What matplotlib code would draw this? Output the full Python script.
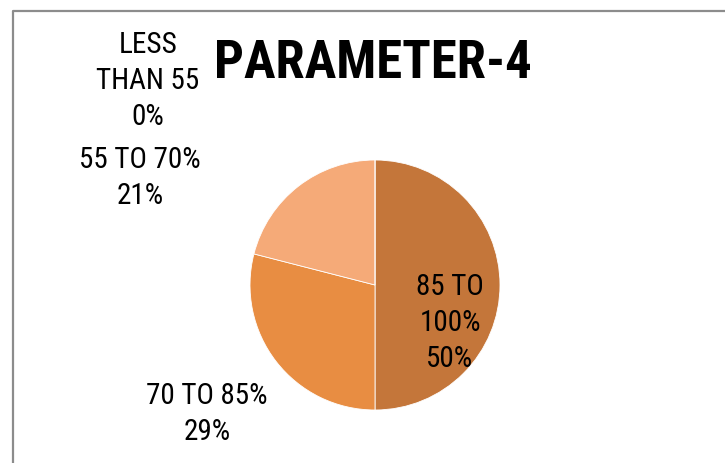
import matplotlib
matplotlib.use("Agg")
import matplotlib.pyplot as plt
from matplotlib.lines import Line2D

plt.rcParams['font.family'] = ['Roboto Condensed', 'Archivo Narrow', 'DejaVu Sans']

categories = ["85 TO 100%", "70 TO 85%", "55 TO 70%", "LESS THAN 55"]
values = [50, 29, 21, 0]
colors = ["#C4763A", "#E88D42", "#F5AA78", "#FBC9A6"]
title = "PARAMETER-4"

W, H = 725, 464
fig = plt.figure(figsize=(W / 100, H / 100), dpi=100)

# frame
fx = 12.5 / W
fy = 1 - 11.5 / H
fig.add_artist(Line2D([fx, fx, 1.0], [0.0, fy, fy], transform=fig.transFigure,
                      color="#8C8C8C", lw=1.6))

cx, cy, r = 375, 286, 125
ax = fig.add_axes([(cx - r) / W, (H - cy - r) / H, 2 * r / W, 2 * r / H])
ax.pie(values, colors=colors, startangle=90, counterclock=False, radius=1,
       wedgeprops=dict(edgecolor="white", linewidth=0.6))
ax.set_xlim(-1, 1)
ax.set_ylim(-1, 1)
ax.set_aspect('equal')
ax.axis('off')

label_text = [
    "85 TO\n100%\n50%",
    "70 TO 85%\n29%",
    "55 TO 70%\n21%",
    "LESS\nTHAN 55\n0%",
]
# label centers in pixels
label_px = [(450, 323), (207, 414), (140, 178), (148, 81)]
for (px, py), t in zip(label_px, label_text):
    fig.text(px / W, 1 - py / H, t, ha="center", va="center", fontsize=21,
             linespacing=1.36, color="black")

fig.text(372.5 / W, 1 - 64 / H, title, ha="center", va="center", fontsize=38,
         fontweight="bold", color="black")

fig.savefig("out.png", dpi=100, facecolor="white")
